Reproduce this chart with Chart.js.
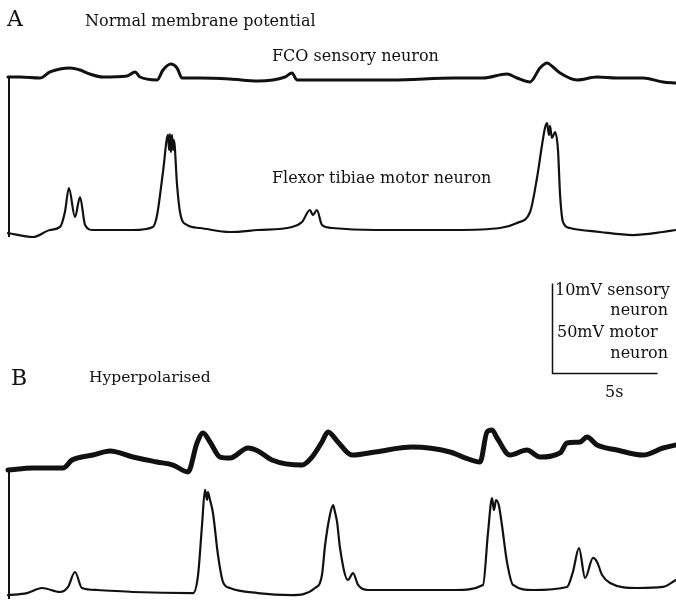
<!DOCTYPE html>
<html>
<head>
<meta charset="utf-8">
<title>FCO sensory and flexor tibiae motor neuron recordings</title>
<script src="https://cdn.jsdelivr.net/npm/chart.js@4/dist/chart.umd.min.js"></script>
<style>
  html, body { margin: 0; padding: 0; background: #fff; }
  #wrap { position: relative; width: 676px; height: 601px; overflow: hidden; }
  #traces { position: absolute; left: 0; top: 0; }
  .lbl {
    position: absolute;
    font-family: "DejaVu Serif", serif;
    font-size: 16px;
    line-height: 1;
    color: #111;
    white-space: nowrap;
  }
  .panel { font-size: 22px; }
</style>
</head>
<body>
<div id="wrap">
  <canvas id="traces" width="676" height="601"></canvas>
  <div class="lbl panel" style="left:7px; top:7.5px;">A</div>
  <div class="lbl" style="left:85px; top:12.5px;">Normal membrane potential</div>
  <div class="lbl" style="left:272px; top:47.5px;">FCO sensory neuron</div>
  <div class="lbl" style="left:272px; top:169.5px;">Flexor tibiae motor neuron</div>
  <div class="lbl" style="left:555px; top:281.5px;">10mV sensory</div>
  <div class="lbl" style="right:8px; top:301.5px;">neuron</div>
  <div class="lbl" style="left:557px; top:323.5px;">50mV motor</div>
  <div class="lbl" style="right:8px; top:344.5px;">neuron</div>
  <div class="lbl" style="left:605px; top:383.5px;">5s</div>
  <div class="lbl panel" style="left:11px; top:366.5px;">B</div>
  <div class="lbl" style="left:89px; top:370px; font-size:15.5px;">Hyperpolarised</div>
</div>
<script>
// ── Registros (tiempo en s, potencial en mV respecto al reposo) ─────────────

// A: potencial de membrana normal — neurona sensorial FCO
const aSensT  = [0.00, 0.57, 1.52, 2.00, 2.95, 3.43, 3.90, 4.52, 5.67, 6.05, 6.29, 7.10, 7.38, 7.76, 8.05, 8.29, 9.14, 10.57, 11.90, 13.19, 13.52, 13.76, 15.10, 16.67, 18.29, 21.29, 22.62, 23.76, 24.24, 24.86, 25.33, 25.67, 25.95, 26.29, 27.10, 28.05, 29.00, 30.24, 31.19, 31.81];
const aSensMv = [0.11, 0.11, 0.00, 0.67, 1.11, 0.89, 0.44, 0.11, 0.22, 0.67, 0.11, -0.22, 0.89, 1.56, 1.11, 0.00, 0.00, -0.11, -0.33, 0.11, 0.56, -0.22, -0.22, -0.22, -0.22, 0.00, 0.00, 0.44, 0.00, -0.44, 1.11, 1.67, 1.22, 0.56, -0.22, 0.11, 0.00, 0.00, -0.44, -0.56];

// A: motoneurona flexora de la tibia
const aMotT  = [0.00, 1.19, 2.00, 2.48, 2.71, 2.90, 3.19, 3.43, 3.67, 4.05, 5.95, 6.90, 7.10, 7.38, 7.62, 7.67, 7.71, 7.76, 7.81, 7.86, 7.90, 8.05, 8.19, 8.52, 9.14, 10.57, 11.90, 13.52, 14.00, 14.38, 14.52, 14.71, 14.95, 15.43, 17.48, 21.29, 23.43, 24.24, 24.86, 25.19, 25.43, 25.57, 25.67, 25.76, 25.81, 25.90, 26.05, 26.19, 26.29, 26.43, 26.76, 28.19, 29.76, 31.19, 31.81];
const aMotMv = [-1.7, -3.9, 0.0, 1.7, 10.0, 23.3, 7.2, 18.3, 2.8, 0.0, 0.0, 1.7, 8.3, 32.2, 52.8, 44.4, 53.3, 43.3, 52.8, 44.4, 50.0, 25.0, 10.0, 2.8, 1.1, -1.1, 0.0, 1.7, 4.4, 11.1, 8.3, 11.1, 2.8, 1.1, 0.0, 0.0, 1.1, 3.9, 10.0, 28.9, 47.2, 56.7, 59.4, 52.8, 57.8, 51.1, 54.4, 44.4, 19.4, 4.4, 1.1, -1.1, -2.8, -1.1, 0.0];

// B: hiperpolarizada — neurona sensorial FCO
const bSensT  = [0.00, 1.19, 2.62, 3.05, 4.05, 4.86, 5.95, 7.10, 7.86, 8.57, 9.00, 9.29, 9.62, 10.10, 10.57, 11.43, 11.90, 12.57, 14.00, 14.48, 14.95, 15.24, 15.71, 16.38, 17.48, 19.24, 21.05, 21.67, 22.48, 22.81, 23.05, 23.29, 23.90, 24.71, 25.33, 26.29, 26.62, 27.24, 27.57, 28.05, 29.00, 30.24, 31.19, 31.81];
const bSensMv = [-0.22, 0.00, 0.00, 0.89, 1.44, 1.89, 1.22, 0.67, 0.33, -0.44, 2.78, 3.89, 2.89, 1.22, 1.11, 2.22, 1.89, 0.89, 0.33, 1.22, 2.89, 4.00, 2.89, 1.44, 1.78, 2.33, 1.78, 1.22, 0.67, 4.00, 4.22, 3.33, 1.44, 2.00, 1.22, 1.67, 2.78, 2.89, 3.44, 2.56, 2.00, 1.44, 2.22, 2.56];

// B: motoneurona flexora de la tibia
const bMotT  = [0.00, 0.90, 1.62, 2.48, 2.86, 3.19, 3.52, 4.24, 5.95, 8.81, 9.05, 9.24, 9.38, 9.48, 9.52, 9.62, 9.76, 10.00, 10.24, 10.57, 11.90, 13.52, 14.62, 14.95, 15.10, 15.33, 15.48, 15.57, 15.67, 15.81, 16.19, 16.43, 16.67, 17.14, 21.29, 22.62, 22.86, 23.05, 23.14, 23.24, 23.38, 23.52, 23.76, 24.05, 25.00, 26.62, 26.90, 27.19, 27.48, 27.86, 28.05, 28.29, 28.67, 29.95, 31.19, 31.81];
const bMotMv = [-2.8, -1.7, 1.1, -1.1, 1.7, 10.0, 1.1, 0.0, -1.1, -1.7, 8.3, 36.1, 55.6, 50.0, 54.4, 50.0, 42.8, 19.4, 4.4, 1.1, -1.7, -2.8, 1.1, 8.3, 25.0, 41.7, 47.2, 43.3, 37.8, 23.3, 5.6, 9.4, 2.8, 0.0, 0.0, 2.8, 32.2, 51.1, 44.4, 50.0, 46.7, 36.1, 15.6, 2.8, 0.0, 1.7, 10.0, 23.3, 6.7, 17.8, 15.6, 8.3, 3.9, 1.1, 1.7, 5.6];

// Barra de calibración
const calTimeS   = 5;
const calSensMv  = 10;
const calMotorMv = 50;

// ── Geometría del lienzo ────────────────────────────────────────────────────
const W = 676, H = 601;
const PX_PER_S = 21;          // eje de tiempo
const PX_PER_MV_SENS = 9;     // 10 mV = 90 px
const PX_PER_MV_MOT = 1.8;    // 50 mV = 90 px
const X0 = 8;

// rango de un eje vertical oculto para que el reposo caiga en baselinePx
function ejeV(baselinePx, pxPorUnidad) {
    return { min: -(H - baselinePx) / pxPorUnidad, max: baselinePx / pxPorUnidad, display: false };
}

const puntos = (t, v) => t.map((x, i) => ({ x, y: v[i] }));

function traza(t, v, eje, grosor) {
    return {
        data: puntos(t, v),
        yAxisID: eje,
        borderColor: '#111',
        borderWidth: grosor,
        borderJoinStyle: 'round',
        borderCapStyle: 'round',
        pointRadius: 0,
        cubicInterpolationMode: 'monotone',
    };
}

// Línea vertical al inicio de cada barrido (une sensorial y motora)
const inicioBarrido = {
    id: 'inicioBarrido',
    afterDatasetsDraw(chart) {
        const ctx = chart.ctx;
        ctx.save();
        ctx.strokeStyle = '#111';
        ctx.lineWidth = 2;
        [[0, 1], [2, 3]].forEach(([s, m]) => {
            const p0 = chart.getDatasetMeta(s).data[0];
            const p1 = chart.getDatasetMeta(m).data[0];
            ctx.beginPath();
            ctx.moveTo(p0.x + 1, p0.y);
            ctx.lineTo(p0.x + 1, p1.y + 4);
            ctx.stroke();
        });
        ctx.restore();
    },
};

// Barra de escala: vertical (10 mV sensorial / 50 mV motor) y horizontal (5 s)
const barraEscala = {
    id: 'barraEscala',
    afterDraw(chart) {
        const { ctx, scales } = chart;
        const esquinaX = 552.5, esquinaY = 373.5;
        const alto = scales.ySensA.getPixelForValue(0) - scales.ySensA.getPixelForValue(calSensMv);
        const ancho = scales.x.getPixelForValue(calTimeS) - scales.x.getPixelForValue(0);
        ctx.save();
        ctx.strokeStyle = '#111';
        ctx.lineWidth = 1.5;
        ctx.beginPath();
        ctx.moveTo(esquinaX, esquinaY - alto);
        ctx.lineTo(esquinaX, esquinaY);
        ctx.lineTo(esquinaX + ancho, esquinaY);
        ctx.stroke();
        ctx.restore();
    },
};

new Chart(document.getElementById('traces'), {
    type: 'line',
    data: {
        datasets: [
            traza(aSensT, aSensMv, 'ySensA', 3),
            traza(aMotT, aMotMv, 'yMotA', 2.2),
            traza(bSensT, bSensMv, 'ySensB', 5),
            traza(bMotT, bMotMv, 'yMotB', 2.2),
        ],
    },
    options: {
        responsive: false,
        animation: false,
        devicePixelRatio: 1,
        layout: { padding: 0 },
        plugins: { legend: { display: false }, tooltip: { enabled: false } },
        scales: {
            x: { type: 'linear', display: false, min: -X0 / PX_PER_S, max: (W - X0) / PX_PER_S },
            ySensA: ejeV(78, PX_PER_MV_SENS),
            yMotA: ejeV(230, PX_PER_MV_MOT),
            ySensB: ejeV(468, PX_PER_MV_SENS),
            yMotB: ejeV(590, PX_PER_MV_MOT),
        },
    },
    plugins: [inicioBarrido, barraEscala],
});
</script>
</body>
</html>
